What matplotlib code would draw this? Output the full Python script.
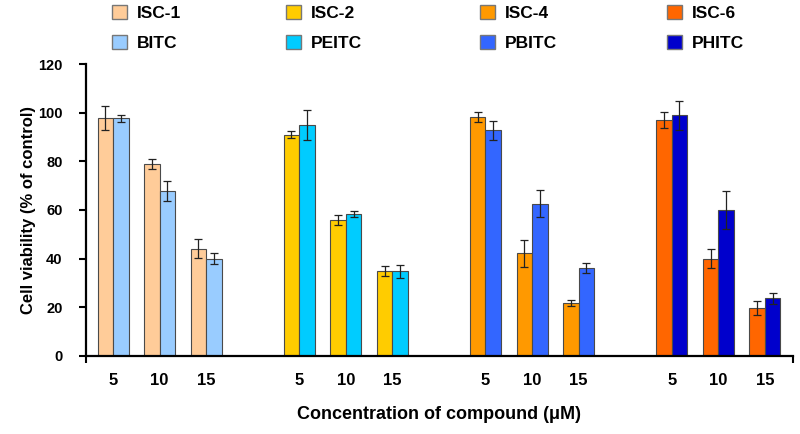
import numpy as np
import matplotlib
matplotlib.use('Agg')
import matplotlib.pyplot as plt
from matplotlib.patches import Patch

plt.rcParams['font.family'] = ['Liberation Sans', 'DejaVu Sans']
plt.rcParams['font.weight'] = 'bold'

# data
conc_labels = ['5', '10', '15']
isc_names = ['ISC-1', 'ISC-2', 'ISC-4', 'ISC-6']
itc_names = ['BITC', 'PEITC', 'PBITC', 'PHITC']
isc_colors = ['#FFCC99', '#FFCC00', '#FF9900', '#FF6600']
itc_colors = ['#99CCFF', '#00CCFF', '#3366FF', '#0000CC']

isc_mean = [[97.7, 78.9, 44.1],
            [91.0, 55.9, 34.8],
            [98.2, 42.1, 21.8],
            [97.1, 40.0, 19.6]]
isc_err = [[5.0, 2.2, 4.0],
           [1.6, 2.2, 2.0],
           [2.2, 5.5, 1.2],
           [3.3, 4.0, 2.9]]
itc_mean = [[97.7, 67.7, 39.9],
            [94.9, 58.5, 34.8],
            [92.7, 62.6, 36.0],
            [98.9, 59.9, 23.6]]
itc_err = [[1.5, 4.0, 2.2],
           [6.0, 1.2, 2.7],
           [3.8, 5.5, 2.1],
           [6.0, 7.8, 2.2]]

fig = plt.figure(figsize=(8, 4.34), dpi=100)
ax = fig.add_axes([0.1075, 0.18, 0.8835, 0.6725])

w = 0.333
ekw = dict(ecolor='#222222', elinewidth=0.9, capsize=2.6, capthick=0.9)
xticks = []
xticklabels = []
for g in range(4):
    pos = np.arange(3) + 4 * g
    ax.bar(pos - w / 2, isc_mean[g], w, yerr=isc_err[g], color=isc_colors[g],
           edgecolor='#4a4a4a', linewidth=0.8, error_kw=ekw, zorder=2)
    ax.bar(pos + w / 2, itc_mean[g], w, yerr=itc_err[g], color=itc_colors[g],
           edgecolor='#4a4a4a', linewidth=0.8, error_kw=ekw, zorder=2)
    xticks += list(pos)
    xticklabels += conc_labels

xmin, xmax = -0.58, 14.6
ax.set_xlim(xmin, xmax)
ax.set_ylim(0, 120)
ax.set_yticks(np.arange(0, 121, 20))
ax.set_xticks(xticks)
ax.set_xticklabels(xticklabels, fontsize=12, fontweight='bold')
ax.set_xticks([xmin, xmax], minor=True)
ax.tick_params(axis='x', which='major', length=0, pad=12)
ax.tick_params(axis='x', which='minor', length=5, width=1.5, direction='out')
ax.tick_params(axis='y', length=5, width=1.5, direction='out', pad=12, labelsize=10.5)
for lab in ax.get_yticklabels():
    lab.set_fontweight('bold')

for s in ['top', 'right']:
    ax.spines[s].set_visible(False)
ax.spines['left'].set_linewidth(1.6)
ax.spines['bottom'].set_linewidth(1.6)

ax.set_ylabel('Cell viability (% of control)', fontsize=12, fontweight='bold', labelpad=1)
ax.set_xlabel('Concentration of compound (\u03bcM)', fontsize=13, fontweight='bold', labelpad=13)

# legend: one column per compound pair
leg_x = [0.120, 0.338, 0.580, 0.814]
for g in range(4):
    handles = [Patch(facecolor=isc_colors[g], edgecolor='#777777', label=isc_names[g]),
               Patch(facecolor=itc_colors[g], edgecolor='#777777', label=itc_names[g])]
    fig.legend(handles=handles, loc='upper left', bbox_to_anchor=(leg_x[g], 1.025),
               frameon=False, prop={'size': 12.5, 'weight': 'bold'},
               handlelength=0.86, handleheight=0.86, handletextpad=0.6, labelspacing=0.83)

fig.savefig('out.png', dpi=100)
